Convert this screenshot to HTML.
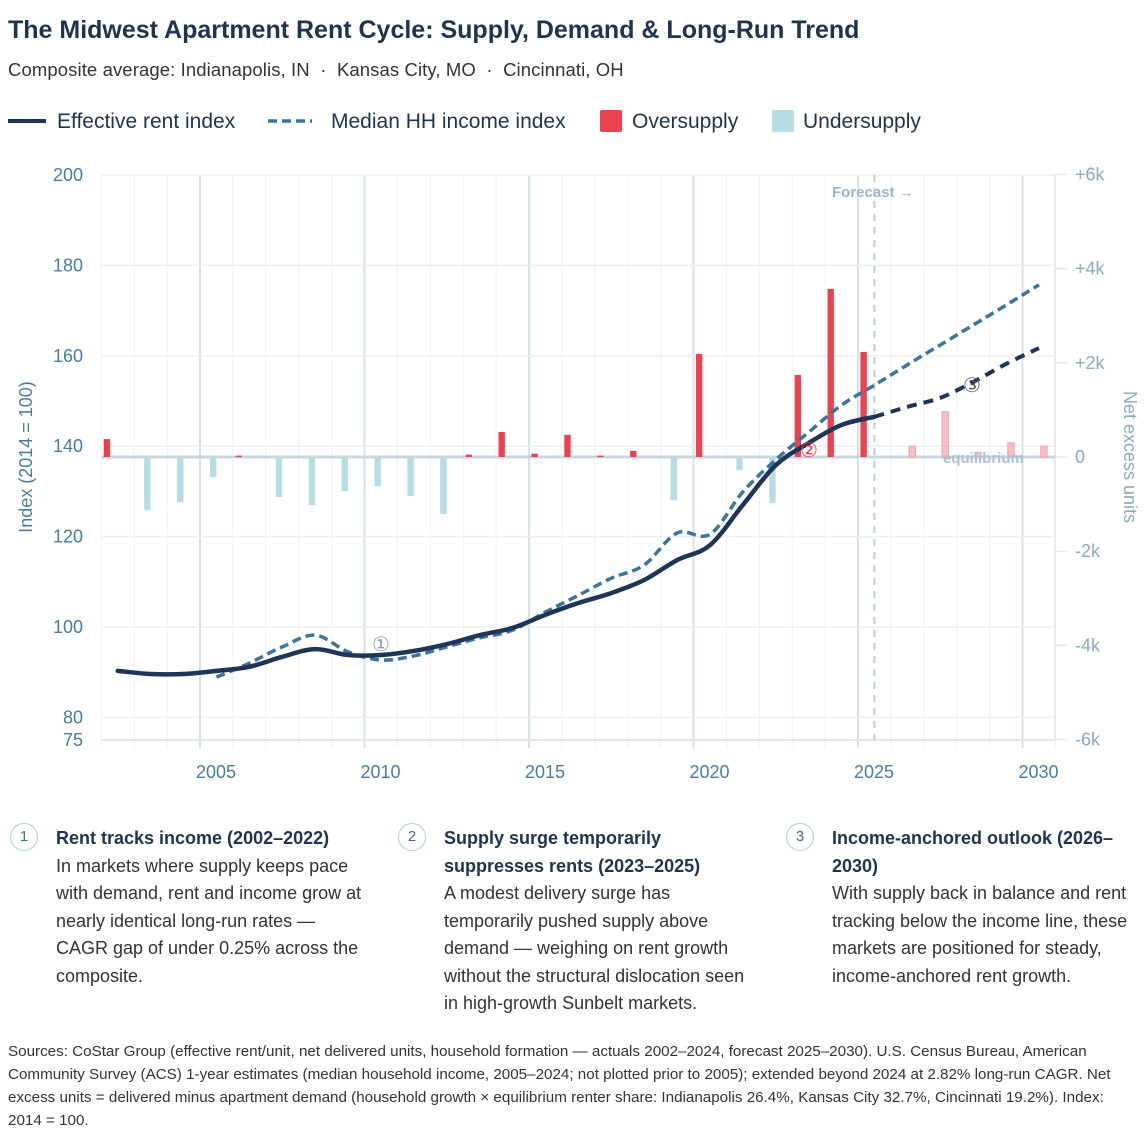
<!DOCTYPE html>
<html><head><meta charset="utf-8"><style>
body{margin:0;background:#fff;width:1147px;height:1145px;overflow:hidden;font-family:"Liberation Sans",sans-serif;color:#1f3450;position:relative}
.abs{position:absolute}
h1{position:absolute;left:8px;top:16px;margin:0;font-size:25px;font-weight:bold;color:#1f3450}
.sub{left:8px;top:59px;font-size:18.5px;color:#333;letter-spacing:0.1px}
.leg{top:110px;font-size:21px;color:#1f3450}
.note{position:absolute;top:825px;width:320px}
.num{position:absolute;left:0;top:-2px;width:26px;height:26px;border:1.5px solid #a9d3da;border-radius:50%;text-align:center;line-height:26px;font-size:15px;color:#3d6f91}
.nh{position:absolute;left:46px;top:0px;font-weight:bold;font-size:18px;line-height:27.5px;color:#1f3450;width:316px}
.nb{font-size:18px;line-height:27.5px;color:#333;font-weight:normal;width:316px}
.src{left:8px;top:1040px;width:1132px;font-size:15.2px;line-height:23px;color:#333}
</style></head><body>
<h1>The Midwest Apartment Rent Cycle: Supply, Demand &amp; Long-Run Trend</h1>
<div class="abs sub">Composite average: Indianapolis, IN &nbsp;·&nbsp; Kansas City, MO &nbsp;·&nbsp; Cincinnati, OH</div>
<div>
<div class="abs" style="left:8px;top:119px;width:38px;height:4px;background:#1f3557"></div>
<div class="abs leg" style="left:57px">Effective rent index</div>
<svg class="abs" style="left:268px;top:116px" width="44" height="10"><line x1="0" y1="5" x2="44" y2="5" stroke="#3d7499" stroke-width="3.5" stroke-dasharray="9,5"/></svg>
<div class="abs leg" style="left:331px">Median HH income index</div>
<div class="abs" style="left:600px;top:110px;width:22px;height:22px;background:#e8434f;border-radius:2px"></div>
<div class="abs leg" style="left:632px">Oversupply</div>
<div class="abs" style="left:772px;top:110px;width:22px;height:22px;background:#b5dde2;border-radius:2px"></div>
<div class="abs leg" style="left:803px">Undersupply</div>
</div>
<svg id="chart" class="abs" style="left:0;top:0" width="1147" height="800"></svg>
<div class="note" style="left:10px"><div class="num">1</div><div class="nh">Rent tracks income (2002–2022)<div class="nb">In markets where supply keeps pace with demand, rent and income grow at nearly identical long-run rates — CAGR gap of under 0.25% across the composite.</div></div></div>
<div class="note" style="left:398px"><div class="num">2</div><div class="nh">Supply surge temporarily suppresses rents (2023–2025)<div class="nb">A modest delivery surge has temporarily pushed supply above demand — weighing on rent growth without the structural dislocation seen in high-growth Sunbelt markets.</div></div></div>
<div class="note" style="left:786px"><div class="num">3</div><div class="nh">Income-anchored outlook (2026–2030)<div class="nb">With supply back in balance and rent tracking below the income line, these markets are positioned for steady, income-anchored rent growth.</div></div></div>
<div class="abs src">Sources: CoStar Group (effective rent/unit, net delivered units, household formation — actuals 2002–2024, forecast 2025–2030). U.S. Census Bureau, American Community Survey (ACS) 1-year estimates (median household income, 2005–2024; not plotted prior to 2005); extended beyond 2024 at 2.82% long-run CAGR. Net excess units = delivered minus apartment demand (household growth × equilibrium renter share: Indianapolis 26.4%, Kansas City 32.7%, Cincinnati 19.2%). Index: 2014 = 100.</div>
<script>
const years=[2002,2003,2004,2005,2006,2007,2008,2009,2010,2011,2012,2013,2014,2015,2016,2017,2018,2019,2020,2021,2022,2023,2024,2025,2026,2027,2028,2029,2030];
const rent=[90.3,89.6,89.6,90.3,91.2,93.4,95.1,93.8,93.8,94.7,96.2,98.2,99.8,102.7,105.3,107.5,110.4,114.8,118.1,127,135.8,140.7,144.7,146.5,148.7,150.7,154.2,158.2,161.7];
const incomeYears=[2005,2006,2007,2008,2009,2010,2011,2012,2013,2014,2015,2016,2017,2018,2019,2020,2021,2022,2023,2024,2025,2026,2027,2028,2029,2030];
const income=[88.9,92,95.6,98.2,94.5,92.7,93.6,95.6,97.6,99.3,103.3,107,110.8,113.7,120.8,120.5,129.9,137,143.1,149.1,153.5,158,162.4,166.8,171.2,175.7];
const excess=[0.38,-1.13,-0.96,-0.43,0.03,-0.85,-1.02,-0.72,-0.62,-0.83,-1.21,0.05,0.53,0.07,0.47,0.03,0.13,-0.92,2.19,-0.28,-0.98,1.74,3.57,2.23,0.23,0.96,0.1,0.3,0.23];
const leftTicks=[200,180,160,140,120,100,80,75];
const rightTicks=[6,4,2,0,-2,-4,-6];
const rightLabels=["+6k","+4k","+2k","0","-2k","-4k","-6k"];
const xTicks=[2005,2010,2015,2020,2025,2030];
const forecastStart=2025;
const NS="http://www.w3.org/2000/svg";
const svg=document.getElementById('chart');
const L=102,R=1055,T=175,B=740;
const x=v=>200+(v-2005)*32.9;
const y=v=>B-(v-75)*(B-T)/125;
const y2=v=>457-v*47.1;
function el(t,a,p){const e=document.createElementNS(NS,t);for(const k in a)e.setAttribute(k,a[k]);(p||svg).appendChild(e);return e;}
for(let yr=2002;yr<=2031;yr++){const g=el('line',{x1:x(yr),x2:x(yr),y1:T,y2:B+8,stroke:yr%5===0?'#d6e2ea':'#f1f3f5','stroke-width':yr%5===0?2:1.2});

}
el('line',{x1:R,x2:R,y1:T,y2:B,stroke:'#e3e8ec','stroke-width':1.5});
leftTicks.forEach(t=>{const g=el('line',{x1:L,x2:R,y1:y(t),y2:y(t),stroke:t===75?'#e3e6ea':'#eeeff1','stroke-width':t===75?2:1.5});


const tx=el('text',{x:83,y:y(t)+6,'text-anchor':'end','font-size':18,fill:'#4a7ba0'});tx.textContent=t;

});
rightTicks.forEach((t,i)=>{el('line',{x1:R,x2:R+12,y1:y2(t),y2:y2(t),stroke:'#e3e6ea','stroke-width':1.5});
const tx=el('text',{x:R+20,y:y2(t)+6,'font-size':18,fill:'#8aaac0'});tx.textContent=rightLabels[i];

});
xTicks.forEach(t=>{const tx=el('text',{x:x(t)+16,y:778,'text-anchor':'middle','font-size':18,fill:'#4a7ba0'});tx.textContent=t;

});
el('line',{x1:L,x2:R,y1:y2(0),y2:y2(0),stroke:'#c8d7e2','stroke-width':3});
years.forEach((yr,i)=>{const v=excess[i];const fc=yr>forecastStart;const off=fc?0.65:(v>=0?0.17:0.4);const cx=x(yr)+off*32.9;
const y0=y2(0),yv=y2(v);const b=el('rect',{x:cx-3.2,y:Math.min(y0,yv),width:6.4,height:Math.max(1.5,Math.abs(yv-y0)),
fill:v>=0?(fc?'#f7b9be':'#e8434f'):'#b5dde2',stroke:fc?'#f49aa2':'none','stroke-width':1,opacity:fc?0.9:1});

});
el('line',{x1:x(forecastStart+0.5),x2:x(forecastStart+0.5),y1:T,y2:B,stroke:'#b8cad8','stroke-width':1.8,'stroke-dasharray':'7,6'});
const fl=el('text',{x:832,y:197,'font-size':15,'font-weight':'bold',fill:'#9ab5c8'});fl.textContent='Forecast →';


const eq=el('text',{x:943,y:463,'font-size':15,'font-weight':'bold',fill:'#a9c2d3'});eq.textContent='equilibrium';


function smooth(pts){let d='M'+pts[0][0]+','+pts[0][1];for(let i=0;i<pts.length-1;i++){const p0=pts[i-1]||pts[i],p1=pts[i],p2=pts[i+1],p3=pts[i+2]||p2;
d+=' C'+(p1[0]+(p2[0]-p0[0])/6)+','+(p1[1]+(p2[1]-p0[1])/6)+' '+(p2[0]-(p3[0]-p1[0])/6)+','+(p2[1]-(p3[1]-p1[1])/6)+' '+p2[0]+','+p2[1];}return d;}
const inc=incomeYears.map((yr,i)=>[x(yr+0.5),y(income[i])]);
const ip=el('path',{d:smooth(inc),fill:'none',stroke:'#3d7499','stroke-width':3.5,'stroke-dasharray':'9,5'});


const ra=[],rf=[];years.forEach((yr,i)=>{const p=[x(yr+0.5),y(rent[i])];if(yr<=forecastStart)ra.push(p);if(yr>=forecastStart)rf.push(p);});
const rp=el('path',{d:smooth(ra),fill:'none',stroke:'#1f3557','stroke-width':4.5,'stroke-linecap':'round'});


const rfp=el('path',{d:smooth(rf),fill:'none',stroke:'#1f3557','stroke-width':4,'stroke-dasharray':'10,7'});


[[381,644,'①','#8a9aa8'],[809,450,'②','#e8434f'],[972,385,'③','#555']].forEach((a,i)=>{const t=el('text',{x:a[0],y:a[1]+7,'text-anchor':'middle','font-size':20,fill:a[3]});t.textContent=a[2];

});
const a1=el('text',{transform:'translate(32,457) rotate(-90)','text-anchor':'middle','font-size':18,fill:'#4a7ba0'});a1.textContent='Index (2014 = 100)';


const a2=el('text',{transform:'translate(1124,457) rotate(90)','text-anchor':'middle','font-size':18,fill:'#8aaac0'});a2.textContent='Net excess units';


</script>
</body></html>
